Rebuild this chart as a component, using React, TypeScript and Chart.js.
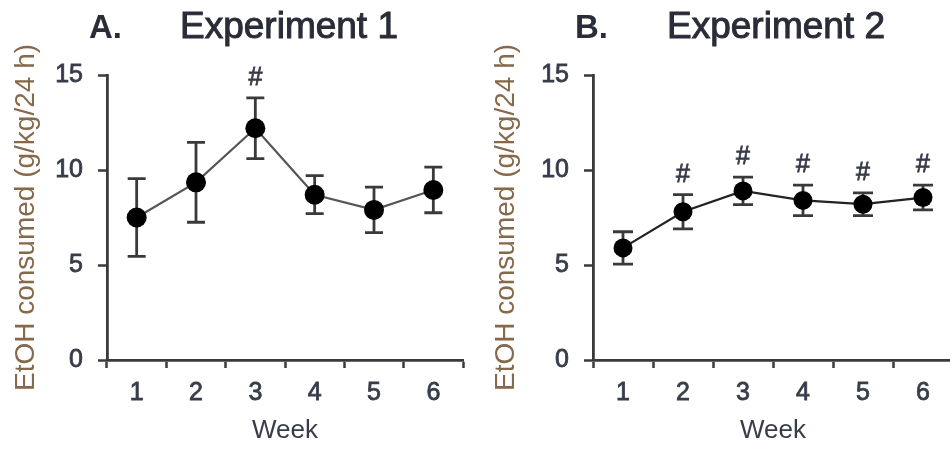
import React, { useEffect, useRef } from "react";
import { Chart, registerables } from "chart.js";

Chart.register(...registerables);

// ---- data ----
const weeks = ["1", "2", "3", "4", "5", "6"];
const exp1Mean = [7.5, 9.35, 12.2, 8.7, 7.9, 8.95];
const exp1Err = [2.05, 2.1, 1.6, 1.0, 1.2, 1.2];
const exp1Sig = [false, false, true, false, false, false];
const exp2Mean = [5.9, 7.8, 8.9, 8.4, 8.2, 8.55];
const exp2Err = [0.85, 0.9, 0.72, 0.8, 0.6, 0.65];
const exp2Sig = [false, true, true, true, true, true];
const yTickValues = [0, 5, 10, 15];
const yAxisTitle = "EtOH consumed (g/kg/24 h)";
const xAxisTitle = "Week";

const FONT = "'Liberation Sans', Arial, sans-serif";
const AXIS = "#3a3a3a";
const TEXT = "#383b4a";
const YTITLE = "#86684a";

type PanelCfg = {
  letter: string;
  title: string;
  means: number[];
  errs: number[];
  sig: boolean[];
  yWidth: number;
  padRight: number;
  yTitlePad: number;
  letterX: number;
  titleX: number;
  lineColor: string;
  radius: number;
  capHalf: number;
};

function makePlugin(cfg: PanelCfg) {
  return {
    id: "panelDecor" + cfg.letter,
    beforeDatasetsDraw(chart: any) {
      const ctx = chart.ctx;
      const xs = chart.scales.x;
      const ys = chart.scales.y;
      ctx.save();
      ctx.strokeStyle = AXIS;
      ctx.lineWidth = 2.8;
      cfg.means.forEach((m, i) => {
        const x = xs.getPixelForValue(i);
        const yt = ys.getPixelForValue(m + cfg.errs[i]);
        const yb = ys.getPixelForValue(m - cfg.errs[i]);
        ctx.beginPath();
        ctx.moveTo(x, yt);
        ctx.lineTo(x, yb);
        ctx.moveTo(x - cfg.capHalf, yt);
        ctx.lineTo(x + cfg.capHalf, yt);
        ctx.moveTo(x - cfg.capHalf, yb);
        ctx.lineTo(x + cfg.capHalf, yb);
        ctx.stroke();
      });
      ctx.restore();
    },
    afterDraw(chart: any) {
      const ctx = chart.ctx;
      const xs = chart.scales.x;
      const ys = chart.scales.y;
      ctx.save();
      // significance marks
      ctx.fillStyle = TEXT;
      ctx.strokeStyle = TEXT;
      ctx.lineWidth = 0.8;
      ctx.font = `25px ${FONT}`;
      ctx.textAlign = "center";
      ctx.textBaseline = "middle";
      cfg.sig.forEach((s, i) => {
        if (!s) return;
        const x = xs.getPixelForValue(i);
        const yt = ys.getPixelForValue(cfg.means[i] + cfg.errs[i]);
        ctx.fillText("#", x, yt - 20);
        ctx.strokeText("#", x, yt - 20);
      });
      // panel titles
      ctx.textAlign = "left";
      ctx.textBaseline = "alphabetic";
      ctx.fillStyle = "#2a2d38";
      ctx.strokeStyle = "#2a2d38";
      ctx.font = `bold 33px ${FONT}`;
      ctx.fillText(cfg.letter, cfg.letterX, 38);
      ctx.font = `37px ${FONT}`;
      ctx.lineWidth = 1;
      ctx.fillText(cfg.title, cfg.titleX, 38);
      ctx.strokeText(cfg.title, cfg.titleX, 38);
      ctx.restore();
    },
  };
}

function buildChart(canvas: HTMLCanvasElement, cfg: PanelCfg) {
  return new Chart(canvas, {
    type: "line",
    data: {
      labels: weeks,
      datasets: [
        {
          data: cfg.means,
          borderColor: cfg.lineColor,
          borderWidth: 2.2,
          pointRadius: cfg.radius,
          pointBackgroundColor: "#000",
          pointBorderColor: "#000",
          pointBorderWidth: 0,
          fill: false,
          tension: 0,
        },
      ],
    },
    options: {
      responsive: false,
      animation: false,
      events: [],
      layout: { padding: { top: 75, right: cfg.padRight, bottom: 0, left: 0 } },
      plugins: {
        legend: { display: false },
        tooltip: { enabled: false },
        title: { display: false },
      },
      scales: {
        x: {
          type: "category",
          offset: true,
          grid: {
            offset: true,
            drawOnChartArea: false,
            drawTicks: true,
            tickLength: 8,
            tickColor: AXIS,
            tickWidth: 2.5,
          },
          border: { display: true, color: AXIS, width: 2.8 },
          ticks: {
            color: TEXT,
            font: { family: FONT, size: 25 },
            textStrokeColor: TEXT,
            textStrokeWidth: 0.8,
            padding: 10,
            maxRotation: 0,
          },
          title: {
            display: true,
            text: xAxisTitle,
            color: TEXT,
            font: { family: FONT, size: 26 },
            padding: { top: 0, bottom: 7 },
          },
          afterFit: (s: any) => {
            s.height = 93;
          },
        },
        y: {
          min: 0,
          max: 15,
          afterBuildTicks: (s: any) => {
            s.ticks = yTickValues.map((v) => ({ value: v }));
          },
          grid: {
            drawOnChartArea: false,
            drawTicks: true,
            tickLength: 9,
            tickColor: AXIS,
            tickWidth: 2.5,
          },
          border: { display: true, color: AXIS, width: 2.8 },
          ticks: {
            color: TEXT,
            font: { family: FONT, size: 25 },
            textStrokeColor: TEXT,
            textStrokeWidth: 0.8,
            padding: 15,
          },
          title: {
            display: true,
            text: yAxisTitle,
            color: YTITLE,
            font: { family: FONT, size: 28 },
            padding: { top: cfg.yTitlePad, bottom: 0 },
          },
          afterFit: (s: any) => {
            s.width = cfg.yWidth;
          },
        },
      },
    },
    plugins: [makePlugin(cfg)],
  } as any);
}

const panelA: PanelCfg = {
  letter: "A.",
  title: "Experiment 1",
  means: exp1Mean,
  errs: exp1Err,
  sig: exp1Sig,
  yWidth: 107,
  padRight: 12,
  yTitlePad: 9,
  letterX: 89,
  titleX: 180,
  lineColor: "#555",
  radius: 10,
  capHalf: 9,
};

const panelB: PanelCfg = {
  letter: "B.",
  title: "Experiment 2",
  means: exp2Mean,
  errs: exp2Err,
  sig: exp2Sig,
  yWidth: 118,
  padRight: 62,
  yTitlePad: 14,
  letterX: 100,
  titleX: 192,
  lineColor: "#222",
  radius: 9.5,
  capHalf: 10,
};

export default function App() {
  const refA = useRef<HTMLCanvasElement>(null);
  const refB = useRef<HTMLCanvasElement>(null);

  useEffect(() => {
    const a = buildChart(refA.current!, panelA);
    const b = buildChart(refB.current!, panelB);
    return () => {
      a.destroy();
      b.destroy();
    };
  }, []);

  return (
    <div
      style={{
        position: "fixed",
        left: 0,
        top: 0,
        width: 950,
        height: 453,
        overflow: "hidden",
        background: "#fff",
      }}
    >
      <canvas
        ref={refA}
        width={475}
        height={453}
        style={{ position: "absolute", left: 0, top: 0 }}
      />
      <canvas
        ref={refB}
        width={540}
        height={453}
        style={{ position: "absolute", left: 475, top: 0 }}
      />
    </div>
  );
}
